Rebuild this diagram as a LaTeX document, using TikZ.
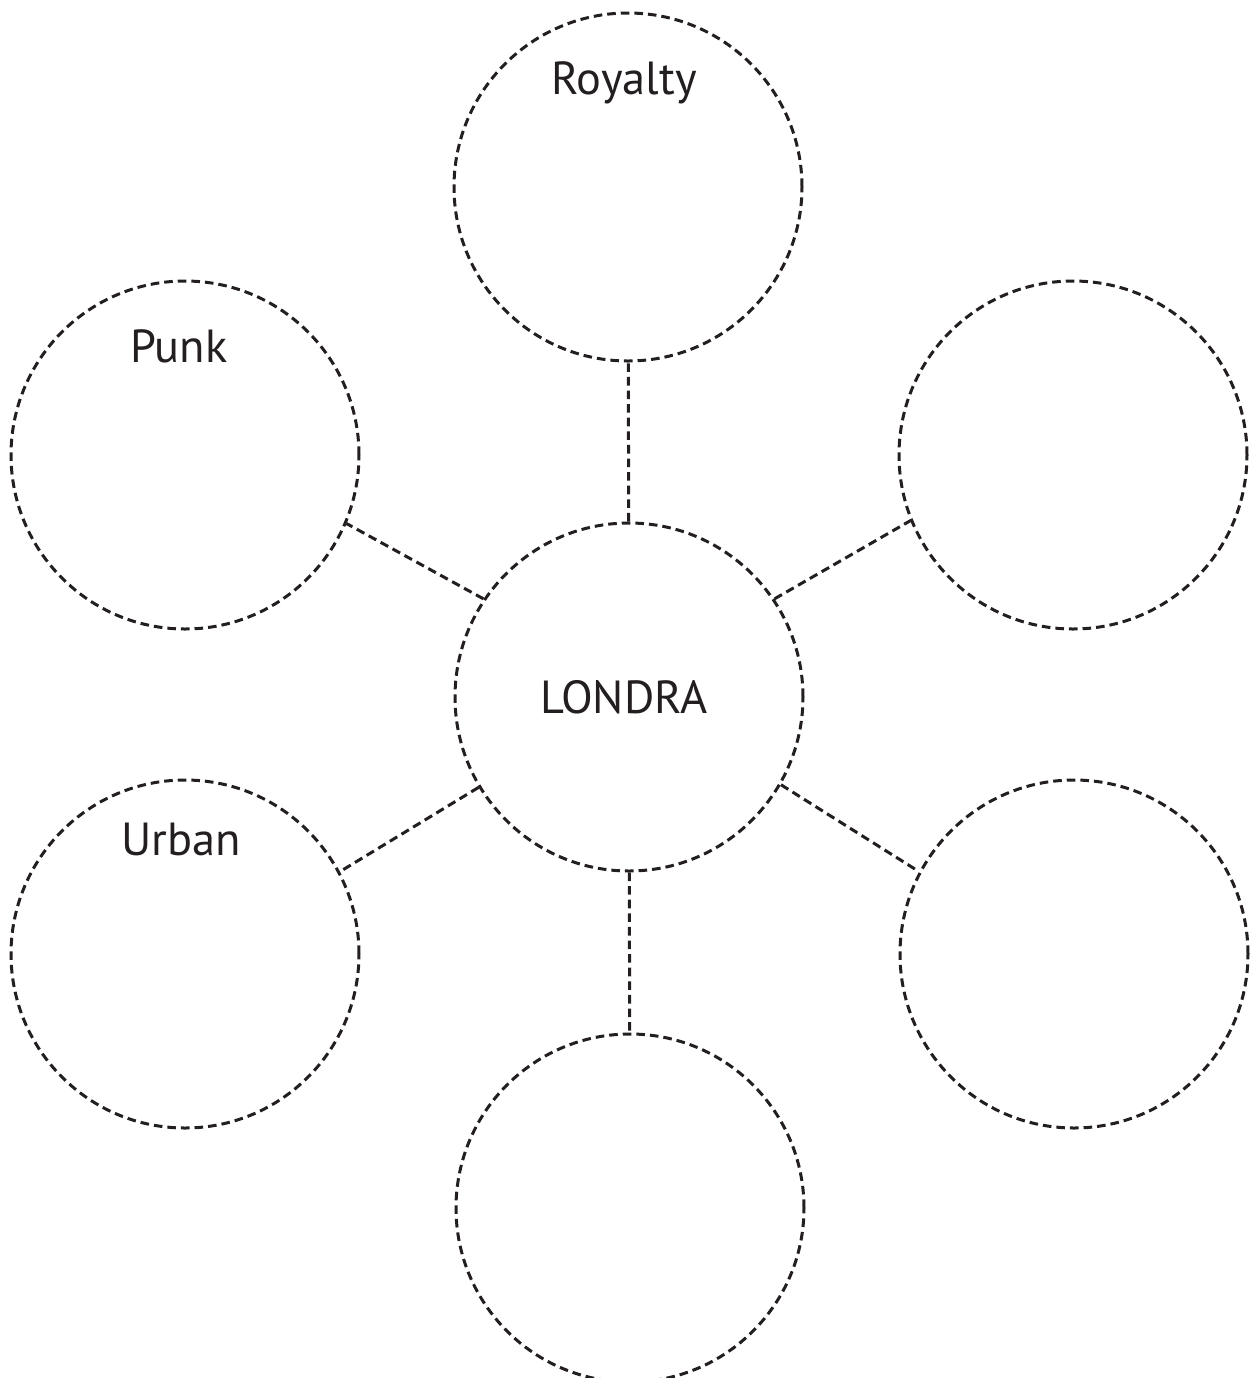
\documentclass[tikz,border=0pt]{standalone}
\usepackage{fontspec}
\setmainfont{PT Sans}
\definecolor{ink}{HTML}{231F20}
\begin{document}
\begin{tikzpicture}[x=0.5pt,y=-0.5pt,
  dline/.style={draw=ink,line width=1.5pt,dash pattern=on 4.3pt off 2.5pt},
  bubble/.style={dline,circle,minimum size=348*0.5pt,inner sep=0pt},
  lbl/.style={text=ink,font=\fontsize{23.2}{28}\selectfont,anchor=base,inner sep=0pt}]
\useasboundingbox (0,0) rectangle (1250,1378);
\node[bubble] (c)  at (629,697) {};
\node[bubble] (t)  at (628,187) {};
\node[bubble] (ul) at (185,455) {};
\node[bubble] (ur) at (1073,455) {};
\node[bubble] (ll) at (185,954) {};
\node[bubble] (lr) at (1074,954) {};
\node[bubble] (b)  at (630,1208) {};
\draw[dline] (c) -- (t);
\draw[dline] (c.146) -- (ul.-23);
\draw[dline] (c.34) -- (ur.202.6);
\draw[dline] (c.211.7) -- (ll.28.7);
\draw[dline] (c.-30.8) -- (lr.152);
\draw[dline] (c) -- (b);
\node[lbl] (tc) at (624,713) {LONDRA};
\node[lbl] (tr) at (624,94) {Royalty};
\node[lbl] (tp) at (179,362) {Punk};
\node[lbl] (tu) at (181,855) {Urban};
\end{tikzpicture}
\end{document}
